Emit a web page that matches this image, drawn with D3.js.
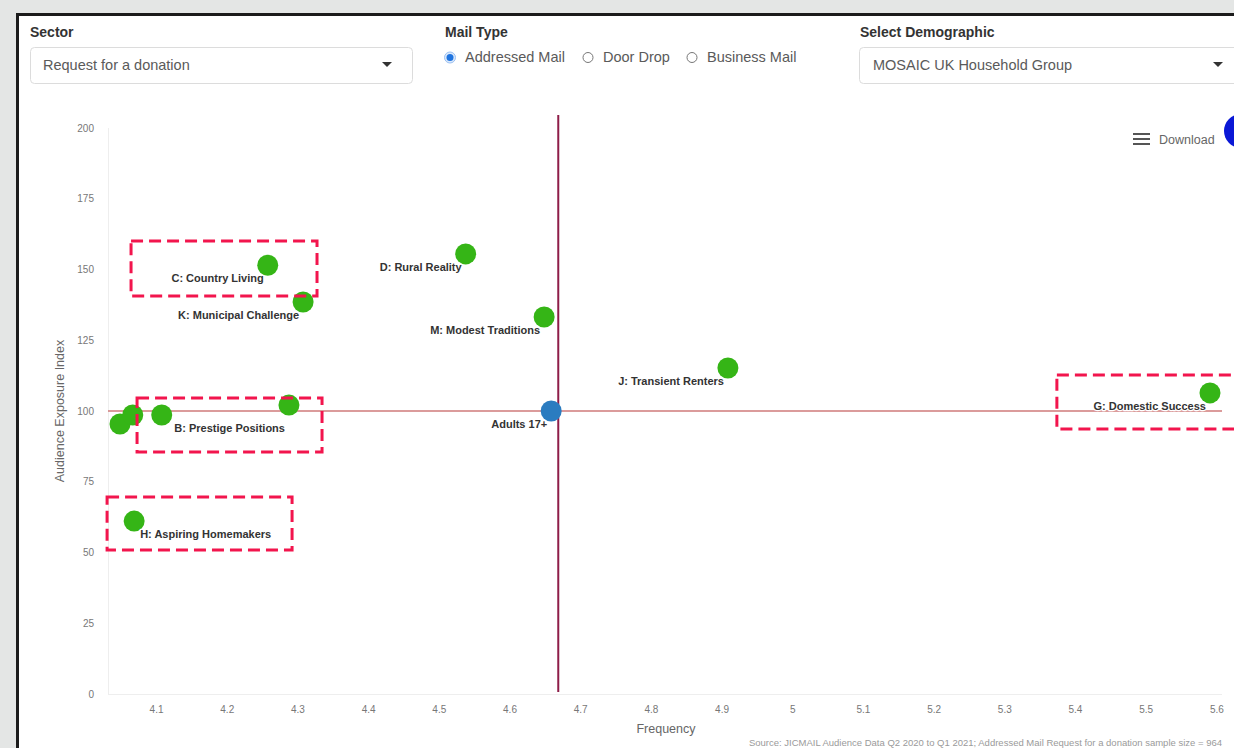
<!DOCTYPE html>
<html>
<head>
<meta charset="utf-8">
<script src="https://cdn.jsdelivr.net/npm/d3@7/dist/d3.min.js"></script>
<style>
  html, body { margin: 0; padding: 0; background: #e4e6e5; }
  svg { display: block; font-family: "Liberation Sans", Arial, sans-serif; }
</style>
</head>
<body>
<svg id="chart" width="1234" height="748"></svg>
<script>
// ---------- data ----------
const groupNames = ["C: Country Living", "K: Municipal Challenge", "D: Rural Reality", "M: Modest Traditions",
  "J: Transient Renters", "G: Domestic Success", "B: Prestige Positions", "H: Aspiring Homemakers",
  "", "", ""];
const frequency = [4.258, 4.308, 4.538, 4.649, 4.909, 5.591, 4.288, 4.069, 4.049, 4.067, 4.108];
const exposureIndex = [151.5, 138.5, 155.5, 133.2, 115.2, 106.4, 102.1, 61.1, 95.4, 98.6, 98.6];

const baseName = ["Adults 17+"];
const baseFrequency = [4.659];
const baseIndex = [100];

const refIndex = 100;
const refFrequency = 4.669;

const xTicks = [4.1, 4.2, 4.3, 4.4, 4.5, 4.6, 4.7, 4.8, 4.9, 5.0, 5.1, 5.2, 5.3, 5.4, 5.5, 5.6];
const yTicks = [0, 25, 50, 75, 100, 125, 150, 175, 200];

// highlight boxes (in data units: freq0, freq1, index0, index1)
const boxFreq0 = [4.0646, 4.0731, 4.0307, 5.3744];
const boxFreq1 = [4.3277, 4.3348, 4.2924, 5.64];
const boxIdx0 = [160.1, 104.6, 69.6, 112.7];
const boxIdx1 = [140.6, 85.5, 50.9, 93.6];

const sectorLabel = "Sector";
const sectorValue = "Request for a donation";
const mailTypeLabel = "Mail Type";
const mailTypes = ["Addressed Mail", "Door Drop", "Business Mail"];
const demoLabel = "Select Demographic";
const demoValue = "MOSAIC UK Household Group";
const sourceText = "Source: JICMAIL Audience Data Q2 2020 to Q1 2021; Addressed Mail Request for a donation sample size = 964";

// ---------- layout / style ----------
const svg = d3.select("#chart");
const green = "#35b516", blue = "#2b7cc0";
const labelPlacement = { "H: Aspiring Homemakers": { anchor: "start", dx: 6, dy: 17 },
                         "B: Prestige Positions": { anchor: "end", dx: -4, dy: 27 } };
const defaultPlacement = { anchor: "end", dx: -4, dy: 17 };

// panel
svg.append("rect").attr("x", 17.5).attr("y", 14.5).attr("width", 1240).attr("height", 760)
  .attr("fill", "#fff").attr("stroke", "#1b1b1b").attr("stroke-width", 3);

// ---------- controls ----------
const ctl = svg.append("g");
ctl.append("text").attr("x", 30).attr("y", 37).text(sectorLabel)
  .attr("font-size", 14).attr("font-weight", "bold").attr("fill", "#333");
ctl.append("rect").attr("x", 30.5).attr("y", 47.5).attr("width", 382).attr("height", 36).attr("rx", 4)
  .attr("fill", "#fff").attr("stroke", "#dcdcdc");
ctl.append("text").attr("x", 43).attr("y", 70).text(sectorValue).attr("font-size", 14.5).attr("fill", "#5a5a5a");
ctl.append("path").attr("d", "M382,62 L392,62 L387,67 Z").attr("fill", "#333");

ctl.append("text").attr("x", 445).attr("y", 37).text(mailTypeLabel)
  .attr("font-size", 14).attr("font-weight", "bold").attr("fill", "#333");
const radioX = [450, 588, 692];
mailTypes.forEach((m, i) => {
  const g = ctl.append("g");
  if (i === 0) {
    g.append("circle").attr("cx", radioX[i]).attr("cy", 57.5).attr("r", 5.5).attr("fill", "#dbe9fb").attr("stroke", "#9cc1f2");
    g.append("circle").attr("cx", radioX[i]).attr("cy", 57.5).attr("r", 3.5).attr("fill", "#1f74e0");
  } else {
    g.append("circle").attr("cx", radioX[i]).attr("cy", 57.5).attr("r", 5).attr("fill", "#fff").attr("stroke", "#777");
  }
  g.append("text").attr("x", radioX[i] + 15).attr("y", 62).text(m).attr("font-size", 14.5).attr("fill", "#5a5a5a");
});

ctl.append("text").attr("x", 860).attr("y", 37).text(demoLabel)
  .attr("font-size", 14).attr("font-weight", "bold").attr("fill", "#333");
ctl.append("rect").attr("x", 859.5).attr("y", 47.5).attr("width", 400).attr("height", 36).attr("rx", 4)
  .attr("fill", "#fff").attr("stroke", "#dcdcdc");
ctl.append("text").attr("x", 873).attr("y", 70).text(demoValue).attr("font-size", 14.5).attr("fill", "#5a5a5a");
ctl.append("path").attr("d", "M1213,62 L1223,62 L1218,67 Z").attr("fill", "#333");

// ---------- scales ----------
const x = d3.scaleLinear().domain([4.032, 5.608]).range([108, 1222]);
const y = d3.scaleLinear().domain([0, 200]).range([694, 128]);

// axis lines (faint)
svg.append("line").attr("x1", 108.5).attr("x2", 108.5).attr("y1", 128).attr("y2", 694).attr("stroke", "#eeeeee");
svg.append("line").attr("x1", 108).attr("x2", 1222).attr("y1", 694.5).attr("y2", 694.5).attr("stroke", "#eeeeee");

// axes
const xAxis = svg.append("g").attr("transform", "translate(0,694)")
  .call(d3.axisBottom(x).tickValues(xTicks).tickSize(0).tickPadding(12).tickFormat(d3.format("~g")));
xAxis.select(".domain").remove();
xAxis.selectAll("text").attr("font-size", 10).attr("fill", "#777").attr("font-family", "Liberation Sans, Arial, sans-serif");

const yAxis = svg.append("g").attr("transform", "translate(94,0)")
  .call(d3.axisLeft(y).tickValues(yTicks).tickSize(0).tickPadding(0));
yAxis.select(".domain").remove();
yAxis.selectAll("text").attr("font-size", 10).attr("fill", "#777").attr("font-family", "Liberation Sans, Arial, sans-serif");

svg.append("text").attr("transform", `translate(64,${(y.range()[0] + y.range()[1]) / 2}) rotate(-90)`).attr("text-anchor", "middle")
  .text("Audience Exposure Index").attr("font-size", 12.5).attr("fill", "#666");
svg.append("text").attr("x", 666).attr("y", 733).attr("text-anchor", "middle")
  .text("Frequency").attr("font-size", 12.5).attr("fill", "#666");

// reference lines
svg.append("line").attr("x1", x.range()[0]).attr("x2", x.range()[1]).attr("y1", y(refIndex)).attr("y2", y(refIndex))
  .attr("stroke", "#cf7a7a").attr("stroke-width", 1.5);
svg.append("line").attr("x1", x(refFrequency)).attr("x2", x(refFrequency)).attr("y1", 115).attr("y2", 692)
  .attr("stroke", "#8e1d48").attr("stroke-width", 2);

// points
const pts = groupNames.map((n, i) => ({ name: n, f: frequency[i], v: exposureIndex[i] }));
svg.append("g").selectAll("circle").data(pts).join("circle")
  .attr("cx", d => x(d.f)).attr("cy", d => y(d.v)).attr("r", 10.5).attr("fill", green);
const base = baseName.map((n, i) => ({ name: n, f: baseFrequency[i], v: baseIndex[i] }));
svg.append("g").selectAll("circle").data(base).join("circle")
  .attr("cx", d => x(d.f)).attr("cy", d => y(d.v)).attr("r", 10.5).attr("fill", blue);

// labels
svg.append("g").selectAll("text").data(pts.concat(base).filter(d => d.name)).join("text")
  .each(function (d) {
    const p = labelPlacement[d.name] || defaultPlacement;
    d3.select(this).attr("x", x(d.f) + p.dx).attr("y", y(d.v) + p.dy).attr("text-anchor", p.anchor);
  })
  .text(d => d.name)
  .attr("font-size", 11).attr("font-weight", "bold").attr("fill", "#333")
  .attr("stroke", "#fff").attr("stroke-width", 2.5).attr("paint-order", "stroke").attr("stroke-linejoin", "round");

// highlight boxes
svg.append("g").selectAll("rect").data(boxFreq0.map((f0, i) => ({ f0, f1: boxFreq1[i], v0: boxIdx0[i], v1: boxIdx1[i] })))
  .join("rect")
  .attr("x", d => x(d.f0)).attr("y", d => y(d.v0))
  .attr("width", d => x(d.f1) - x(d.f0)).attr("height", d => y(d.v1) - y(d.v0))
  .attr("fill", "none").attr("stroke", "#f2154d").attr("stroke-width", 3).attr("stroke-dasharray", "12,6");

// download control
const dl = svg.append("g");
[134, 139, 144].forEach(yy => dl.append("line").attr("x1", 1133).attr("x2", 1150).attr("y1", yy).attr("y2", yy)
  .attr("stroke", "#555").attr("stroke-width", 2));
dl.append("text").attr("x", 1159).attr("y", 144).text("Download").attr("font-size", 12.5).attr("fill", "#666");
dl.append("circle").attr("cx", 1241).attr("cy", 131).attr("r", 17).attr("fill", "#0a18d6");

// source
svg.append("text").attr("x", 1222).attr("y", 746).attr("text-anchor", "end").text(sourceText)
  .attr("font-size", 9.5).attr("fill", "#9a9a9a");
</script>
</body>
</html>
